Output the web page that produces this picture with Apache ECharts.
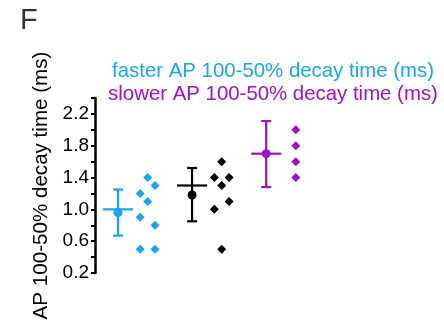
<!DOCTYPE html>
<html>
<head>
<meta charset="utf-8">
<script src="https://cdn.jsdelivr.net/npm/echarts@6/dist/echarts.min.js"></script>
<style>
  html, body { margin: 0; padding: 0; background: #fff; }
  #chart { width: 444px; height: 320px; }
</style>
</head>
<body>
<div id="chart"></div>
<script>
// groups: faster (blue), all (black), slower (purple)
const groupNames = ['faster', 'all', 'slower'];
const groupColors = ['#17a6ef', '#000000', '#a010c8'];

// summary per group: line value, dot value, error bar low / high
const meanLine = [1.00, 1.30, 1.70];
const dotValue = [0.96, 1.18, 1.70];
const errLow = [0.67, 0.85, 1.28];
const errHigh = [1.25, 1.52, 2.11];

// individual cells: value and jitter column (-1, 0, 1)
const fasterValues = [1.40, 1.30, 1.20, 1.10, 0.90, 0.80, 0.50, 0.50];
const fasterCols = [0, 1, -1, 0, -1, 1, -1, 1];
const allValues = [1.60, 1.40, 1.40, 1.30, 1.10, 1.00, 0.50];
const allCols = [0, -1, 1, 0, 1, -1, 0];
const slowerValues = [2.00, 1.80, 1.60, 1.40];
const slowerCols = [0, 0, 0, 0];

const yMin = 0.2, yMax = 2.4, yStep = 0.2;

const FONT = 'Liberation Sans, Arial, sans-serif';
const DOT_OFFSET = 0.4, JITTER = 0.1;

const chart = echarts.init(document.getElementById('chart'));

const summaryData = groupNames.map((n, i) => [i, meanLine[i], dotValue[i], errLow[i], errHigh[i]]);

function pointsFor(g, vals, cols) {
  return vals.map((v, k) => [g + DOT_OFFSET + cols[k] * JITTER, v]);
}
const cellSets = [
  pointsFor(0, fasterValues, fasterCols),
  pointsFor(1, allValues, allCols),
  pointsFor(2, slowerValues, slowerCols)
];

function renderSummary(params, api) {
  const g = api.value(0);
  const c = groupColors[g];
  const pMean = api.coord([g, api.value(1)]);
  const pDot = api.coord([g, api.value(2)]);
  const pLo = api.coord([g, api.value(3)]);
  const pHi = api.coord([g, api.value(4)]);
  const st = { stroke: c, lineWidth: 2.2 };
  const capW = 5, meanW = 15;
  return {
    type: 'group',
    children: [
      { type: 'line', shape: { x1: pLo[0], y1: pLo[1], x2: pHi[0], y2: pHi[1] }, style: st },
      { type: 'line', shape: { x1: pLo[0] - capW, y1: pLo[1], x2: pLo[0] + capW, y2: pLo[1] }, style: st },
      { type: 'line', shape: { x1: pHi[0] - capW, y1: pHi[1], x2: pHi[0] + capW, y2: pHi[1] }, style: st },
      { type: 'line', shape: { x1: pMean[0] - meanW, y1: pMean[1], x2: pMean[0] + meanW, y2: pMean[1] }, style: st },
      { type: 'circle', shape: { cx: pDot[0], cy: pDot[1], r: 4.5 }, style: { fill: c } }
    ]
  };
}

const option = {
  animation: false,
  backgroundColor: '#fff',
  title: [
    { text: 'F', left: 15, top: 1, textStyle: { fontFamily: FONT, fontSize: 29, fontWeight: 'normal', color: '#333' } },
    { text: 'faster AP 100-50% decay time (ms)', left: 268, top: 56, textAlign: 'center',
      textStyle: { fontFamily: FONT, fontSize: 20.4, fontWeight: 'normal', color: groupColors[0] } },
    { text: 'slower AP 100-50% decay time (ms)', left: 268, top: 79, textAlign: 'center',
      textStyle: { fontFamily: FONT, fontSize: 20.4, fontWeight: 'normal', color: groupColors[2] } }
  ],
  grid: { left: 95, right: 0, top: 98, bottom: 47, containLabel: false, outerBoundsMode: 'none' },
  xAxis: { type: 'value', min: -0.31, max: 4.4, show: false },
  yAxis: {
    type: 'value', min: yMin, max: yMax, interval: yStep,
    name: 'AP 100-50% decay time (ms)', nameLocation: 'middle', nameGap: 32,
    nameTextStyle: { fontFamily: FONT, fontSize: 20.6, color: '#000' },
    axisLine: { show: true, onZero: false, lineStyle: { color: '#000', width: 2.5 } },
    axisTick: { show: true, length: 4, lineStyle: { color: '#000', width: 2 } },
    splitLine: { show: false },
    axisLabel: {
      fontFamily: FONT, fontSize: 19, color: '#000', margin: 6,
      formatter: v => (Math.round(v * 10) - 2) % 4 === 0 ? v.toFixed(1) : ''
    }
  },
  series: [
    { type: 'custom', renderItem: renderSummary, data: summaryData, encode: { x: 0, y: [1, 3, 4] }, z: 3 },
    ...cellSets.map((d, i) => ({
      type: 'scatter', data: d, symbol: 'diamond', symbolSize: 9,
      itemStyle: { color: groupColors[i], opacity: 1 }
    }))
  ]
};

chart.setOption(option);
</script>
</body>
</html>
